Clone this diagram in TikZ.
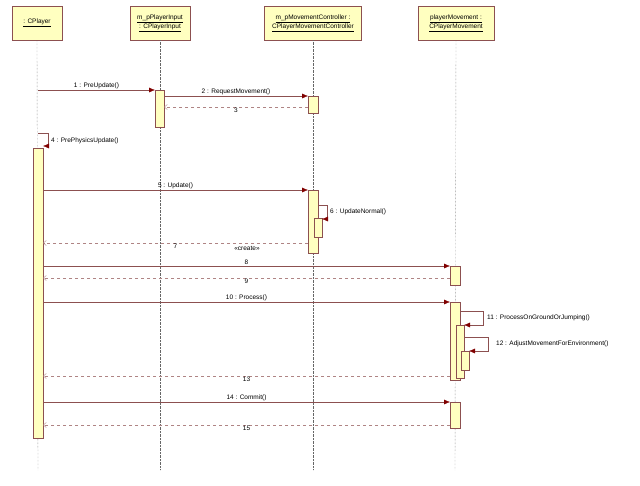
\documentclass[tikz,border=0pt]{standalone}
\usepackage{fontspec}
\setmainfont{Liberation Sans}
\usetikzlibrary{arrows.meta}
\definecolor{ln}{RGB}{140,80,80}
\definecolor{ar}{RGB}{128,0,0}
\definecolor{fl}{RGB}{255,255,192}
\begin{document}
\begin{tikzpicture}[x=1pt,y=-1pt,
  obj/.style={draw=ln,fill=fl,minimum height=34pt,align=center,inner sep=1pt,font=\fontsize{6.5}{7.5}\selectfont},
  life/.style={draw=gray!80!black,densely dotted},
  act/.style={draw=ln,fill=fl},
  msg/.style={draw=ln,-{Latex[length=6pt,width=5pt,color=ar,fill=ar]}},
  ret/.style={draw=ln!70,dashed,-{Straight Barb[length=3pt,width=5pt]}},
  lb/.style={font=\fontsize{6.5}{7.5}\selectfont,inner sep=1pt}]
\useasboundingbox (0,0) rectangle (640,485);
\node[obj,minimum width=50pt] (p) at (37,23) {\underline{: CPlayer}};
\node[obj,minimum width=60pt] (i) at (160,23) {\underline{m\_pPlayerInput}\\\underline{: CPlayerInput}};
\node[obj,minimum width=97pt] (c) at (313,23) {\underline{m\_pMovementController :}\\\underline{CPlayerMovementController}};
\node[obj,minimum width=76pt] (m) at (456,23) {\underline{playerMovement :}\\\underline{CPlayerMovement}};
\coordinate (pe) at (38,470); \coordinate (ie) at (160,470);
\coordinate (ce) at (313,470); \coordinate (me) at (455,470);
\draw[life] (p.south) -- (pe); \draw[life] (i.south) -- (ie);
\draw[life] (c.south) -- (ce); \draw[life] (m.south) -- (me);
% activations
\draw[act] (155,90) rectangle (164,127);
\draw[act] (308,96) rectangle (318,113);
\draw[act] (33,148) rectangle (43,438);
\draw[act] (308,190) rectangle (318,253);
\draw[act] (314,218) rectangle (322,237);
\draw[act] (450,266) rectangle (460,285);
\draw[act] (450,302) rectangle (460,380);
\draw[act] (456,325) rectangle (464,378);
\draw[act] (461,351) rectangle (469,370);
\draw[act] (450,402) rectangle (460,428);
% messages
\coordinate (a1) at (38,90); \coordinate (b1) at (155,90);
\draw[msg] (a1) -- node[lb,above]{1 : PreUpdate()} (b1);
\coordinate (a2) at (164,96); \coordinate (b2) at (308,96);
\draw[msg] (a2) -- node[lb,above]{2 : RequestMovement()} (b2);
\coordinate (a3) at (308,107); \coordinate (b3) at (164,107);
\draw[ret] (a3) -- node[lb,below]{3} (b3);
\coordinate (a4) at (38,133); \coordinate (b4) at (43,146);
\draw[msg] (a4) -- (48,133) -- (48,146) -- (b4);
\node[lb,anchor=west] (l4) at (50,141) {4 : PrePhysicsUpdate()};
\coordinate (a5) at (43,190); \coordinate (b5) at (308,190);
\draw[msg] (a5) -- node[lb,above]{5 : Update()} (b5);
\coordinate (a6) at (318,205); \coordinate (b6) at (322,219);
\draw[msg] (a6) -- (327,205) -- (327,219) -- (b6);
\node[lb,anchor=west] (l6) at (329,212) {6 : UpdateNormal()};
\coordinate (a7) at (308,243); \coordinate (b7) at (43,243);
\draw[ret] (a7) -- node[lb,below]{7} (b7);
\coordinate (a8) at (43,266); \coordinate (b8) at (450,266);
\draw[msg] (a8) -- node[lb,above]{8} (b8);
\node[lb] (cr) at (247,248) {<<create>>};
\coordinate (a9) at (450,278); \coordinate (b9) at (43,278);
\draw[ret] (a9) -- node[lb,below]{9} (b9);
\coordinate (a10) at (43,302); \coordinate (b10) at (450,302);
\draw[msg] (a10) -- node[lb,above]{10 : Process()} (b10);
\coordinate (a11) at (460,311); \coordinate (b11) at (464,325);
\draw[msg] (a11) -- (483,311) -- (483,325) -- (b11);
\node[lb,anchor=west] (l11) at (486,318) {11 : ProcessOnGroundOrJumping()};
\coordinate (a12) at (464,337); \coordinate (b12) at (469,351);
\draw[msg] (a12) -- (488,337) -- (488,351) -- (b12);
\node[lb,anchor=west] (l12) at (495,344) {12 : AdjustMovementForEnvironment()};
\coordinate (a13) at (450,376); \coordinate (b13) at (43,376);
\draw[ret] (a13) -- node[lb,below]{13} (b13);
\coordinate (a14) at (43,402); \coordinate (b14) at (450,402);
\draw[msg] (a14) -- node[lb,above]{14 : Commit()} (b14);
\coordinate (a15) at (450,425); \coordinate (b15) at (43,425);
\draw[ret] (a15) -- node[lb,below]{15} (b15);
\end{tikzpicture}
\end{document}
